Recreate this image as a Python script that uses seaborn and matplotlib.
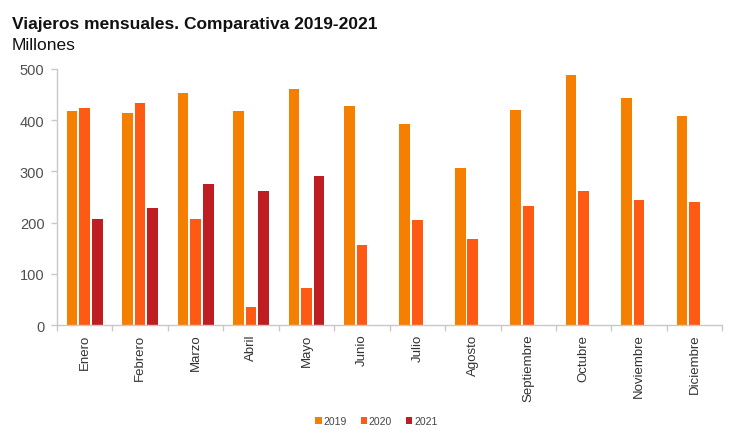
import numpy as np
import pandas as pd
from matplotlib import pyplot as plt
import seaborn as sns

# Datos (millones de viajeros)
meses = ['Enero', 'Febrero', 'Marzo', 'Abril', 'Mayo', 'Junio', 'Julio',
         'Agosto', 'Septiembre', 'Octubre', 'Noviembre', 'Diciembre']
v2019 = [417, 413, 453, 418, 461, 428, 392, 306, 420, 488, 444, 407]
v2020 = [423, 434, 208, 36, 72, 156, 206, 168, 232, 261, 244, 241]
v2021 = [207, 228, 276, 261, 290, np.nan, np.nan, np.nan, np.nan, np.nan, np.nan, np.nan]
years = ['2019', '2020', '2021']
colors = ['#F57F00', '#FF5A14', '#BE1E22']

# Tabla larga para seaborn
df = pd.DataFrame({
    'mes': meses * 3,
    'anio': [y for y in years for _ in meses],
    'valor': v2019 + v2020 + v2021,
})

sns.set_theme(style="white")
plt.rcParams['font.family'] = ['Liberation Sans', 'DejaVu Sans']

fig = plt.figure(figsize=(7.5, 4.39), dpi=100)
ax = fig.add_axes([0.076, 0.257, 0.887, 0.584])

sns.barplot(data=df, x='mes', y='valor', hue='anio', order=meses,
            hue_order=years, palette=colors, width=0.68, gap=0.15,
            saturation=1, linewidth=0, ax=ax)

# Ejes
ax.set_ylim(0, 500)
ax.set_yticks(range(0, 501, 100))
ax.set_xlim(-0.5, 11.5)
ax.set_xlabel('')
ax.set_ylabel('')
for s in ['top', 'right']:
    ax.spines[s].set_visible(False)
for s in ['left', 'bottom']:
    ax.spines[s].set_color('#C8C8C8')
    ax.spines[s].set_linewidth(1)

ax.tick_params(axis='y', left=True, length=4, width=1, color='#C8C8C8',
               labelsize=10.5, labelcolor='#505050', pad=5)
ax.tick_params(axis='x', which='major', length=0, labelsize=9.5,
               labelcolor='#333333', pad=6)
ax.set_xticks(np.arange(-0.5, 12, 1), minor=True)
ax.tick_params(axis='x', which='minor', bottom=True, length=4, width=1,
               color='#C8C8C8')
plt.setp(ax.get_xticklabels(), rotation=90, va='top', ha='center')

# Leyenda abajo
ax.legend(title=None, loc='center', bbox_to_anchor=(0.48, -0.375),
          ncol=3, frameon=False, fontsize=7.5, handlelength=0.6,
          handleheight=0.6, handletextpad=0.2, columnspacing=1.3,
          labelcolor='#444444')

# Titulos
fig.text(0.016, 0.935, 'Viajeros mensuales. Comparativa 2019-2021',
         fontsize=12.5, fontweight='bold', color='#111111')
fig.text(0.016, 0.886, 'Millones', fontsize=12.5, color='#111111')

plt.savefig('out.png', dpi=100)
plt.close()
